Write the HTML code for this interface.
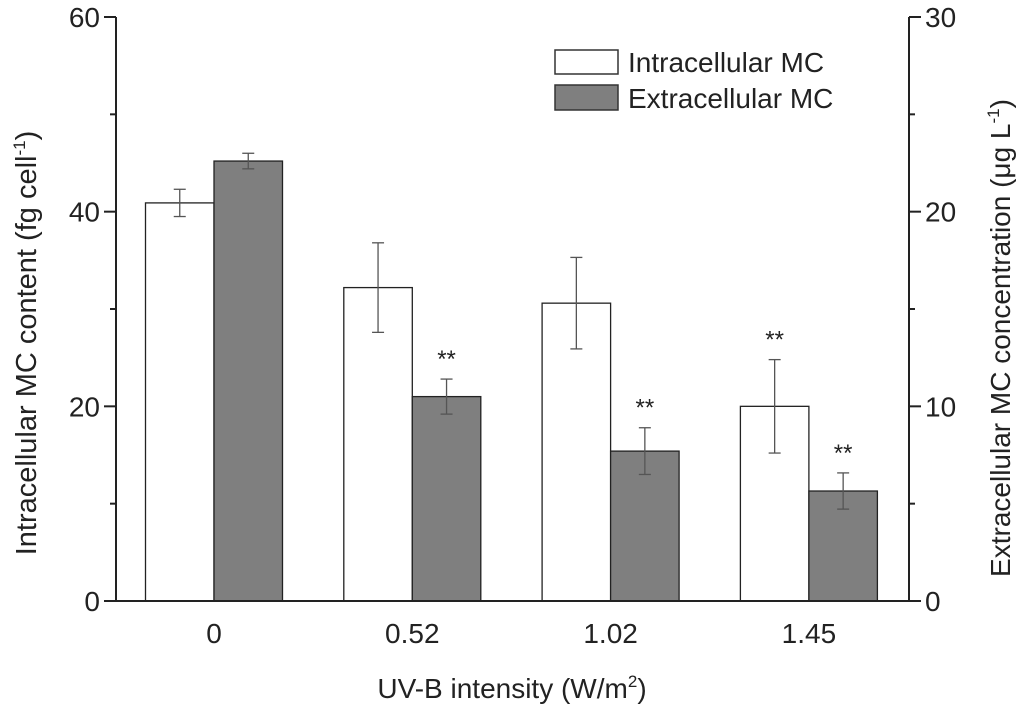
<!DOCTYPE html>
<html><head><meta charset="utf-8"><style>
body{margin:0;background:#fff}
svg text{font-family:"Liberation Sans",Arial,sans-serif;fill:#222}
</style></head><body>
<svg id="c" width="1024" height="707" viewBox="0 0 1024 707" xmlns="http://www.w3.org/2000/svg"></svg>
<script>
const categories=["0","0.52","1.02","1.45"];
const intraValues=[40.9,32.2,30.6,20.0];
const intraErrors=[1.4,4.6,4.7,4.8];
const extraValues=[22.6,10.5,7.7,5.65];
const extraErrors=[0.4,0.9,1.2,0.93];
const intraSig=["","","","**"];
const extraSig=["","**","**","**"];
const leftTicks=[0,20,40,60];
const rightTicks=[0,10,20,30];

const NS="http://www.w3.org/2000/svg";
const svg=document.getElementById('c');
const X0=116,X1=909,Y0=601,Y1=17;
const yL=v=>Y0-(v/60)*(Y0-Y1);
const yR=v=>Y0-(v/30)*(Y0-Y1);
const xC=i=>214+i*198.3;
const BW=68.5;
function el(tag,attrs,parent){const e=document.createElementNS(NS,tag);for(const k in attrs)e.setAttribute(k,attrs[k]);(parent||svg).appendChild(e);return e;}
function txt(s,attrs){const t=el('text',attrs);t.textContent=s;return t;}

function errBar(x,yt,yb,name){
  const g=el('g',{stroke:'#555','stroke-width':1.3});
  
  
  el('line',{x1:x,x2:x,y1:yt,y2:yb},g);
  el('line',{x1:x-6,x2:x+6,y1:yt,y2:yt},g);
  el('line',{x1:x-6,x2:x+6,y1:yb,y2:yb},g);
}
categories.forEach((c,i)=>{
  const xc=xC(i);
  let r=el('rect',{x:xc-BW,y:yL(intraValues[i]),width:BW,height:Y0-yL(intraValues[i]),fill:'#fff',stroke:'#222','stroke-width':1.3});
  
  
  r=el('rect',{x:xc,y:yR(extraValues[i]),width:BW,height:Y0-yR(extraValues[i]),fill:'#7f7f7f',stroke:'#222','stroke-width':1.3});
  
  
  errBar(xc-BW/2,yL(intraValues[i]+intraErrors[i]),yL(intraValues[i]-intraErrors[i]),'error-intracellular-'+c);
  errBar(xc+BW/2,yR(extraValues[i]+extraErrors[i]),yR(extraValues[i]-extraErrors[i]),'error-extracellular-'+c);
  if(intraSig[i]){let t=txt(intraSig[i],{x:xc-BW/2,y:yL(intraValues[i]+intraErrors[i])-12,'font-size':24,'text-anchor':'middle'});
    }
  if(extraSig[i]){let t=txt(extraSig[i],{x:xc+BW/2,y:yR(extraValues[i]+extraErrors[i])-12,'font-size':24,'text-anchor':'middle'});
    }
  let t=txt(c,{x:xc,y:643,'font-size':28,'text-anchor':'middle'});
  
});
const ax=el('g',{stroke:'#222','stroke-width':2,fill:'none'});


el('line',{x1:X0,x2:X0,y1:Y1,y2:Y0},ax);
el('line',{x1:X1,x2:X1,y1:Y1,y2:Y0},ax);
el('line',{x1:X0-12,x2:X1,y1:Y0,y2:Y0},ax);
leftTicks.forEach(v=>{el('line',{x1:X0-12,x2:X0,y1:yL(v),y2:yL(v)},ax);
  let t=txt(String(v),{x:X0-16,y:yL(v)+10,'font-size':28,'text-anchor':'end'});
  });
for(let v=10;v<60;v+=20)el('line',{x1:X0-6,x2:X0,y1:yL(v),y2:yL(v)},ax);
rightTicks.forEach(v=>{el('line',{x1:X1,x2:X1+12,y1:yR(v),y2:yR(v)},ax);
  let t=txt(String(v),{x:X1+16,y:yR(v)+10,'font-size':28,'text-anchor':'start'});
  });
for(let v=5;v<30;v+=10)el('line',{x1:X1,x2:X1+6,y1:yR(v),y2:yR(v)},ax);
</script>
<svg width="1024" height="707" style="position:absolute;left:0;top:0">
<text x="512" y="698" font-size="28" text-anchor="middle">UV-B intensity (W/m<tspan dy="-11" font-size="17">2</tspan><tspan dy="11">)</tspan></text>
<text transform="translate(36,343) rotate(-90)" font-size="29" text-anchor="middle">Intracellular MC content (fg cell<tspan dy="-11" font-size="17">-1</tspan><tspan dy="11">)</tspan></text>
<text transform="translate(1010,338) rotate(-90)" font-size="28" text-anchor="middle">Extracellular MC concentration (μg L<tspan dy="-11" font-size="17">-1</tspan><tspan dy="11">)</tspan></text>
<g>
<rect x="555" y="50" width="63" height="24" fill="#fff" stroke="#333" stroke-width="1.5"/>
<text x="628" y="72" font-size="28">Intracellular MC</text>
<rect x="555" y="85" width="63" height="25" fill="#7f7f7f" stroke="#333" stroke-width="1.5"/>
<text x="628" y="108" font-size="28">Extracellular MC</text>
</g>
</svg>
</body></html>
